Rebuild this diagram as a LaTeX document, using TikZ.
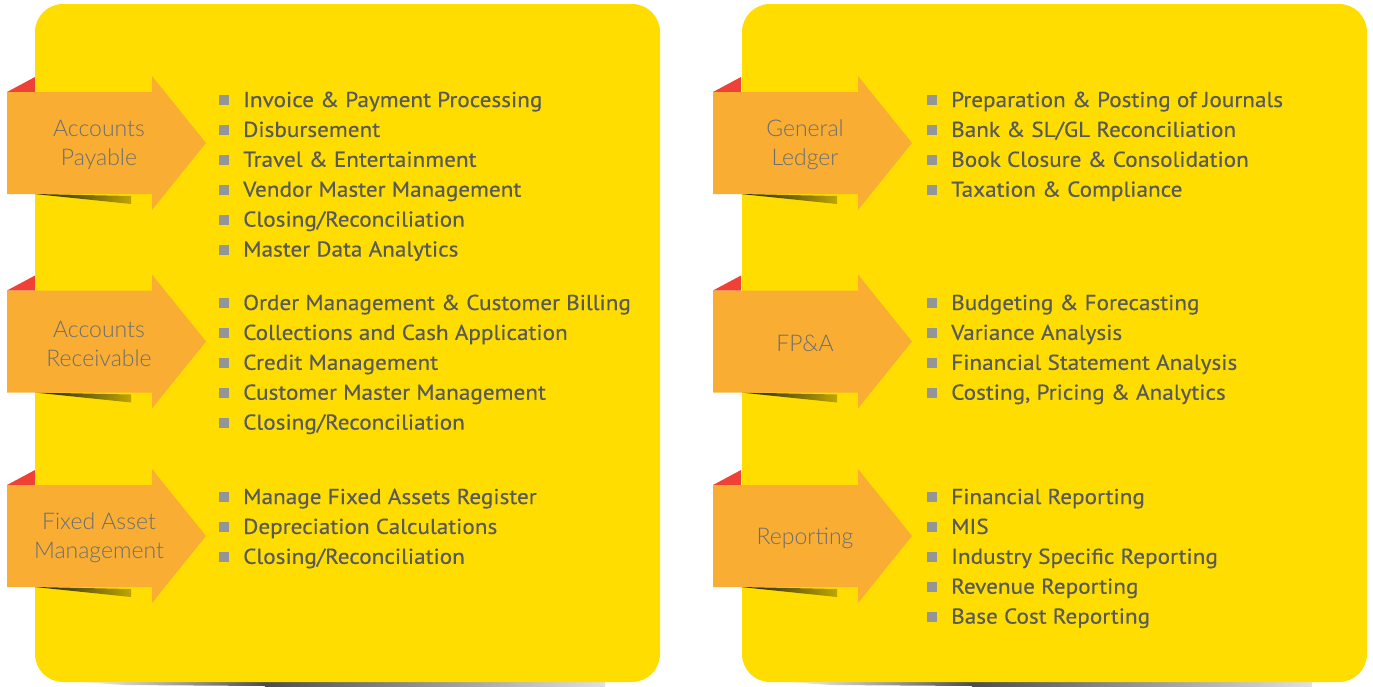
\documentclass[tikz,border=0pt]{standalone}
\usepackage{fontspec}
\setmainfont{PT Sans}[FakeStretch=1.08, FakeBold=0.4]
\newfontfamily\labelfont{Lato Light}
\usetikzlibrary{calc}

\definecolor{panelyellow}{HTML}{FFDD00}
\definecolor{arroworange}{HTML}{F9AE33}
\definecolor{foldred}{HTML}{EF4136}
\definecolor{labelgray}{HTML}{6D6E71}
\definecolor{itemgray}{HTML}{58595B}
\definecolor{bulletgray}{HTML}{939598}

\tikzset{
  panel/.style={fill=panelyellow, rounded corners=28pt},
  tagbody/.style={fill=arroworange},
  tagfold/.style={fill=foldred},
  tagshade/.style={left color=black!90, right color=panelyellow!75!black},
  bulletsq/.style={fill=bulletgray, minimum size=10pt, inner sep=0pt},
  itemtext/.style={anchor=base west, text=itemgray, inner sep=0pt,
    font=\fontsize{21.5}{25}\selectfont},
  labeltext/.style={text=labelgray, align=center, inner sep=0pt,
    font=\labelfont\fontsize{23}{29}\selectfont},
}

% bulleted list: x of text, baseline of first line, prefix, entries
\newcommand\bulletlist[4]{%
  \foreach \t [count=\i] in {#4} {
    \node[itemtext] (#3-\i) at (#1, {#2 + (\i-1)*29.9}) {\t};
    \node[bulletsq] (#3-b\i) at ({#1 - 19.5}, {#2 - 7 + (\i-1)*29.9}) {};
  }%
}

\begin{document}
\begin{tikzpicture}[x=1pt, y=-1pt]
\useasboundingbox (0,0) rectangle (1373,686);

% red folds of the tags, tucked behind the panels
\foreach \x/\y in {7/143, 7/341.5, 7/536, 713/143, 713/341.5, 713/536} {
  \fill[tagfold] (\x, \y-51) -- (\x+28, \y-66) -- (\x+28, \y-51) -- cycle;
}

% soft shadows under the panels
\foreach \x in {35, 742} {
  \shade[left color=white, right color=black!70]
    (\x+40, 682) -- (\x+230, 682) -- (\x+230, 686) -- (\x+90, 685) -- cycle;
  \shade[left color=black!70, right color=black!12]
    (\x+230, 682) -- (\x+570, 682) -- (\x+570, 686) -- (\x+230, 686) -- cycle;
}

% yellow panels
\fill[panel] (35,4) rectangle (660,682);
\fill[panel] (742,4) rectangle (1367,682);

% arrow tags with their shadows and labels
\foreach \x/\y/\n/\t in {
    7/143/ap/{Accounts\\Payable},
    7/341.5/ar/{Accounts\\Receivable},
    7/536/fa/{Fixed Asset\\Management},
    713/143/gl/{General\\Ledger},
    713/341.5/fp/{FP\&A},
    713/536/rp/{Reporting}} {
  \shade[tagshade] (\x+28, \y+51) -- (\x+124, \y+53) -- (\x+124, \y+61) -- cycle;
  \fill[tagbody] (\x, \y-51) -- (\x+145, \y-51) -- (\x+145, \y-67)
    -- (\x+199, \y) -- (\x+145, \y+67) -- (\x+145, \y+51) -- (\x, \y+51) -- cycle;
  \node[labeltext] (\n) at (\x+92, \y+2) {\t};
}

% task lists
\bulletlist{243}{107}{ap}{Invoice \& Payment Processing, Disbursement,
  Travel \& Entertainment, Vendor Master Management,
  Closing/Reconciliation, Master Data Analytics}
\bulletlist{243}{310}{ar}{Order Management \& Customer Billing,
  Collections and Cash Application, Credit Management,
  Customer Master Management, Closing/Reconciliation}
\bulletlist{243}{504}{fa}{Manage Fixed Assets Register,
  Depreciation Calculations, Closing/Reconciliation}
\bulletlist{951}{107}{gl}{Preparation \& Posting of Journals,
  Bank \& SL/GL Reconciliation, Book Closure \& Consolidation,
  Taxation \& Compliance}
\bulletlist{951}{310}{fp}{Budgeting \& Forecasting, Variance Analysis,
  Financial Statement Analysis, {Costing, Pricing \& Analytics}}
\bulletlist{951}{504}{rp}{Financial Reporting, MIS,
  Industry Specific Reporting, Revenue Reporting, Base Cost Reporting}
\end{tikzpicture}
\end{document}
